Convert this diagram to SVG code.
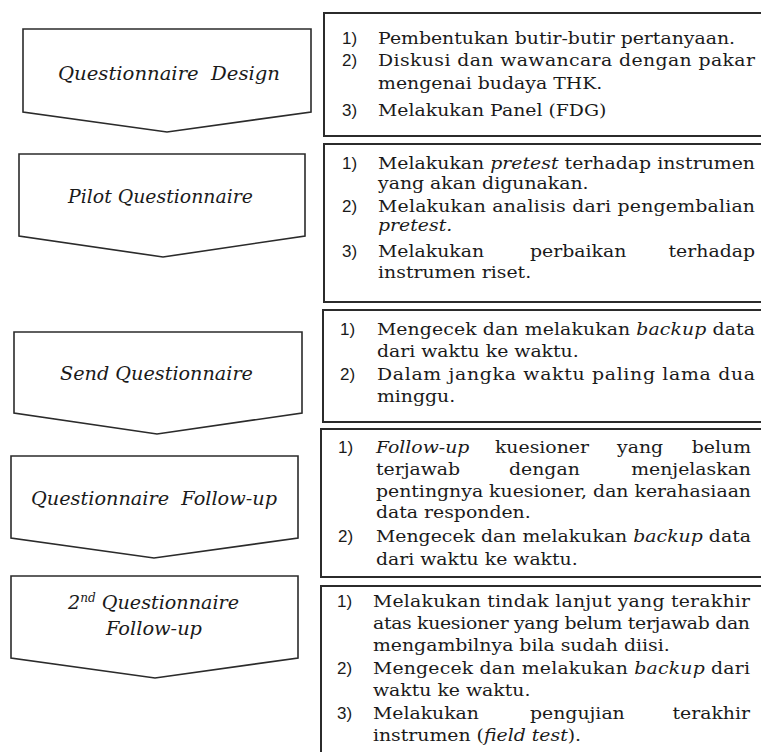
<svg xmlns="http://www.w3.org/2000/svg" width="761" height="752" viewBox="0 0 761 752">
<style>
.shape{fill:#fff;stroke:#2b2b2b;stroke-width:1.6;stroke-linejoin:miter}
.box{fill:#fff;stroke:#2b2b2b;stroke-width:2}
.lbl{font-family:"DejaVu Serif",serif;font-style:italic;font-size:19px;fill:#1a1a1a;text-anchor:middle}
.t{font-family:"DejaVu Serif",serif;font-size:17px;fill:#1a1a1a}
.n{font-family:"Liberation Sans",Arial,sans-serif;font-size:17px;fill:#1a1a1a}
.i{font-style:italic}
.e{text-anchor:end}
</style>
<rect width="761" height="752" fill="#fff"/>
<g id="steps">
<g id="step1"><path class="shape" d="M23,29 H311 V112 L167,132 L23,112 Z"/><text class="lbl" x="169" y="80" textLength="222" lengthAdjust="spacingAndGlyphs">Questionnaire&#160; Design</text></g>
<g id="step2"><path class="shape" d="M19,154 H305 V236 L163,257 L19,236 Z"/><text class="lbl" x="160.5" y="203" textLength="185" lengthAdjust="spacingAndGlyphs">Pilot Questionnaire</text></g>
<g id="step3"><path class="shape" d="M14,332 H302 V413 L157,434 L14,413 Z"/><text class="lbl" x="156.5" y="380" textLength="193" lengthAdjust="spacingAndGlyphs">Send Questionnaire</text></g>
<g id="step4"><path class="shape" d="M11,456 H298 V538 L154,558 L11,538 Z"/><text class="lbl" x="154" y="505" textLength="246" lengthAdjust="spacingAndGlyphs">Questionnaire&#160; Follow-up</text></g>
<g id="step5"><path class="shape" d="M11,576 H298 V658 L155,678 L11,658 Z"/><text class="lbl" x="153.5" y="609" textLength="171" lengthAdjust="spacingAndGlyphs">2<tspan font-size="12" dy="-7">nd</tspan><tspan dy="7"> Questionnaire</tspan></text><text class="lbl" x="154" y="635" textLength="96" lengthAdjust="spacingAndGlyphs">Follow-up</text></g>
</g>
<g id="desc1"><rect class="box" x="324" y="13" width="445" height="123"/>
<text class="n" x="342" y="44">1)</text><text class="n" x="342" y="66">2)</text><text class="n" x="342" y="116">3)</text>
<g transform="scale(1.109,1)">
<text class="t" x="340.9" y="44">Pembentukan butir-butir pertanyaan.</text>
<text class="t" x="340.9" y="66" textLength="339.9" lengthAdjust="spacing">Diskusi dan wawancara dengan pakar</text>
<text class="t" x="340.9" y="89">mengenai budaya THK.</text>
<text class="t" x="340.9" y="116">Melakukan Panel (FDG)</text>
</g></g>
<g id="desc2"><rect class="box" x="324" y="144" width="445" height="158"/>
<text class="n" x="342" y="169">1)</text><text class="n" x="342" y="212">2)</text><text class="n" x="342" y="257">3)</text>
<g transform="scale(1.109,1)">
<text class="t" x="340.9" y="169" textLength="339.9" lengthAdjust="spacing">Melakukan <tspan class="i">pretest</tspan> terhadap instrumen</text>
<text class="t" x="340.9" y="189">yang akan digunakan.</text>
<text class="t" x="340.9" y="212" textLength="339.9" lengthAdjust="spacing">Melakukan analisis dari pengembalian</text>
<text class="t i" x="340.9" y="231">pretest.</text>
<text class="t" x="340.9" y="257">Melakukan</text><text class="t" x="477.9" y="257">perbaikan</text><text class="t e" x="680.8" y="257">terhadap</text>
<text class="t" x="340.9" y="278">instrumen riset.</text>
</g></g>
<g id="desc3"><rect class="box" x="323" y="310" width="446" height="112"/>
<text class="n" x="340" y="335">1)</text><text class="n" x="340" y="380">2)</text>
<g transform="scale(1.109,1)">
<text class="t" x="339.9" y="335" textLength="340.9" lengthAdjust="spacing">Mengecek dan melakukan <tspan class="i">backup</tspan> data</text>
<text class="t" x="339.9" y="357">dari waktu ke waktu.</text>
<text class="t" x="339.9" y="380" textLength="340.9" lengthAdjust="spacing">Dalam jangka waktu paling lama dua</text>
<text class="t" x="339.9" y="402">minggu.</text>
</g></g>
<g id="desc4"><rect class="box" x="321" y="429" width="448" height="148"/>
<text class="n" x="338" y="453">1)</text><text class="n" x="338" y="542">2)</text>
<g transform="scale(1.109,1)">
<text class="t i" x="339" y="453">Follow-up</text><text class="t" x="446.3" y="453">kuesioner</text><text class="t" x="556.4" y="453">yang</text><text class="t e" x="677.2" y="453">belum</text>
<text class="t" x="339" y="475">terjawab</text><text class="t" x="459" y="475">dengan</text><text class="t e" x="677.2" y="475">menjelaskan</text>
<text class="t" x="339" y="497" textLength="338.2" lengthAdjust="spacing">pentingnya kuesioner, dan kerahasiaan</text>
<text class="t" x="339" y="518">data responden.</text>
<text class="t" x="339" y="542" textLength="338.2" lengthAdjust="spacing">Mengecek dan melakukan <tspan class="i">backup</tspan> data</text>
<text class="t" x="339" y="565">dari waktu ke waktu.</text>
</g></g>
<g id="desc5"><rect class="box" x="321" y="586" width="448" height="180"/>
<text class="n" x="337" y="607">1)</text><text class="n" x="337" y="674">2)</text><text class="n" x="337" y="719">3)</text>
<g transform="scale(1.109,1)">
<text class="t" x="336.3" y="607" textLength="340" lengthAdjust="spacing">Melakukan tindak lanjut yang terakhir</text>
<text class="t" x="336.3" y="629" textLength="340" lengthAdjust="spacing">atas kuesioner yang belum terjawab dan</text>
<text class="t" x="336.3" y="651">mengambilnya bila sudah diisi.</text>
<text class="t" x="336.3" y="674" textLength="340" lengthAdjust="spacing">Mengecek dan melakukan <tspan class="i">backup</tspan> dari</text>
<text class="t" x="336.3" y="696">waktu ke waktu.</text>
<text class="t" x="336.3" y="719">Melakukan</text><text class="t" x="477.9" y="719">pengujian</text><text class="t e" x="676.3" y="719">terakhir</text>
<text class="t" x="336.3" y="741">instrumen (<tspan class="i">field test</tspan>).</text>
</g></g>
</svg>
